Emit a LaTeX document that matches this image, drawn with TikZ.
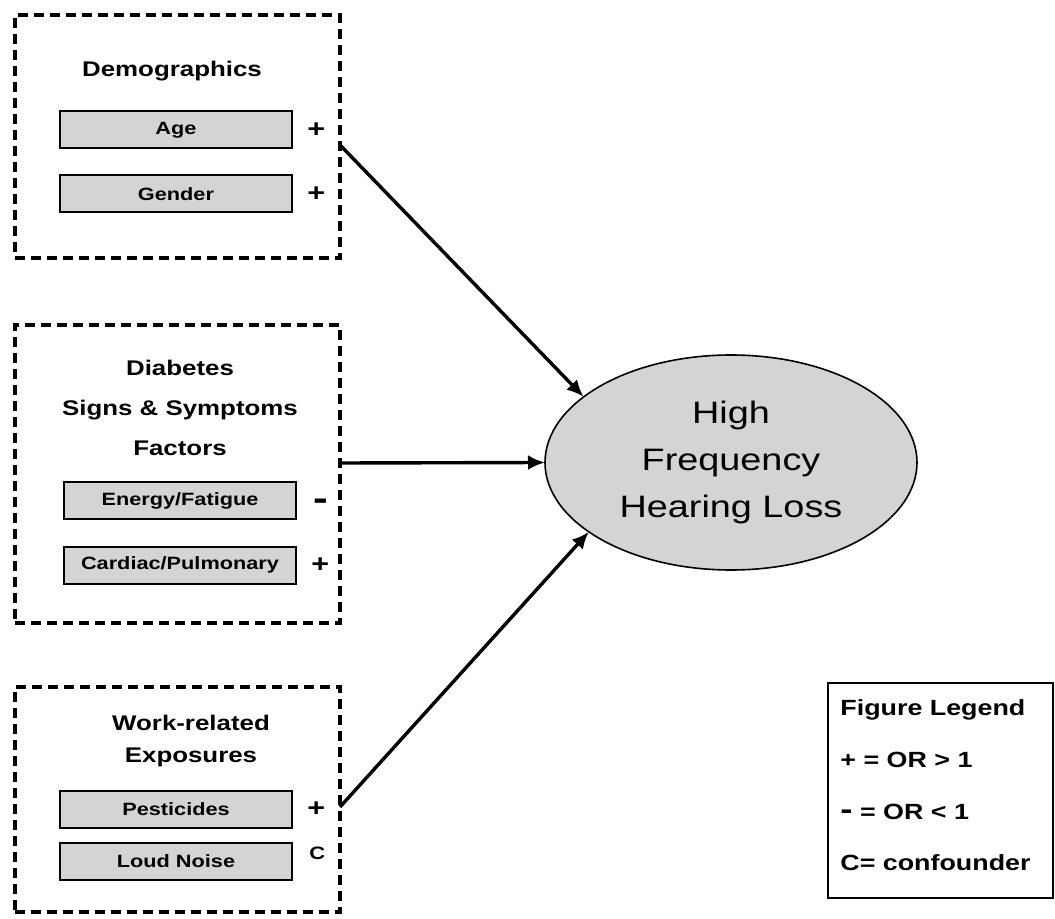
\documentclass[tikz,border=0pt]{standalone}
\usepackage{fontspec}
\setmainfont{Liberation Sans}[FakeStretch=1.22]
\usetikzlibrary{positioning}
\usetikzlibrary{arrows.meta}
\usetikzlibrary{shapes.geometric}
\tikzset{>={Latex[width=7.5pt,length=8.5pt]}}
\definecolor{boxgray}{HTML}{D4D4D4}
\tikzset{
    groupbox/.style={draw, dash pattern=on 5pt off 3pt, line width=1.6pt, inner sep=0pt, outer sep=0pt, minimum width=162.5pt},
    factor/.style={draw, fill=boxgray, line width=1pt, minimum width=116pt, minimum height=18.5pt, inner sep=0pt, font=\fontsize{8.9}{10}\selectfont\bfseries},
    heading/.style={align=center, font=\fontsize{10.6}{20}\selectfont\bfseries},
    sign/.style={inner sep=0pt, font=\fontsize{12.5}{14}\selectfont\bfseries},
    legendtext/.style={anchor=west, inner sep=0pt, font=\fontsize{11}{13}\selectfont\bfseries},
}

\begin{document}
\begin{tikzpicture}[x=0.5pt, y=-0.5pt]
    \useasboundingbox (0,0) rectangle (1055,919);

    \node (demo) [groupbox, minimum height=121.5pt] at (177.5,136.5) {};
    \node (diab) [groupbox, minimum height=149pt] at (177.5,474) {};
    \node (work) [groupbox, minimum height=112.5pt] at (177.5,799.5) {};

    \node (demotitle) [heading] at (172,71) {Demographics};
    \node (age) [factor] at (176,130) {Age};
    \node (gender) [factor] at (176,194) {Gender};
    \node (agesign) [sign, right=7pt of age] {+};
    \node (gendersign) [sign, right=7pt of gender] {+};

    \node (diabtitle) [heading] at (180,408) {Diabetes\\Signs \& Symptoms\\Factors};
    \node (energy) [factor] at (180,501) {Energy/Fatigue};
    \node (cardiac) [factor] at (180,565) {Cardiac/Pulmonary};
    \node (energysign) [sign, font=\fontsize{18}{18}\selectfont\bfseries, right=8pt of energy, yshift=-2pt] {-};
    \node (cardiacsign) [sign, right=7pt of cardiac] {+};

    \node (worktitle) [heading, font=\fontsize{10.6}{16}\selectfont\bfseries] at (191,741) {Work-related\\Exposures};
    \node (pest) [factor] at (176,809) {Pesticides};
    \node (noise) [factor] at (176,861) {Loud Noise};
    \node (pestsign) [sign, right=7pt of pest] {+};
    \node (noisesign) [sign, font=\fontsize{9}{11}\selectfont\bfseries, right=8pt of noise, yshift=4pt] {C};

    \node (hfhl) [ellipse, draw, fill=boxgray, line width=0.8pt, minimum width=186pt, minimum height=107.5pt, inner sep=0pt, outer sep=0pt, align=center, font=\fontsize{15.5}{23.5}\selectfont] at (731,462.5) {High\\Frequency\\Hearing Loss};

    \node (legendbox) [draw, line width=1.4pt, minimum width=112.5pt, minimum height=107.5pt, inner sep=0pt] at (940.5,790.5) {};
    \node (legtitle) [legendtext] at (840,710) {Figure Legend};
    \node (legplus) [legendtext] at (840,760) {+ = OR > 1};
    \node (legminus) [legendtext] at (840,812) {{\fontsize{15}{13}\selectfont -} = OR < 1};
    \node (legconf) [legendtext] at (840,863) {C= confounder};

    \path [draw, ->, line width=1.7pt] ([yshift=-4.25pt]demo.east) -- (hfhl.156.5);
    \path [draw, ->, line width=1.7pt] ([yshift=5.5pt]diab.east) -- (hfhl.west);
    \path [draw, ->, line width=1.7pt] ([yshift=-3.75pt]work.east) -- (hfhl.206.3);
\end{tikzpicture}
\end{document}
